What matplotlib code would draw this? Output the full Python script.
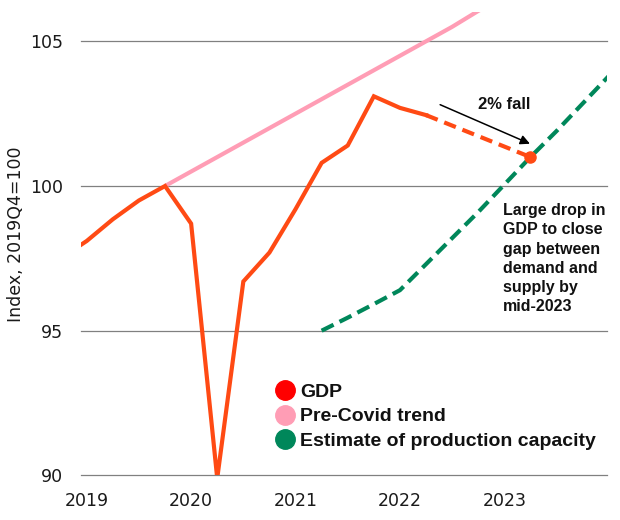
import matplotlib
matplotlib.use("Agg")
import matplotlib.pyplot as plt
from matplotlib.lines import Line2D

# quarter index: 0 = 2019Q1, 4 = 2020Q1, ...
gdp_q = [-1, 0, 1, 2, 3, 4, 5, 6, 7, 8, 9, 10, 11, 12, 13]
gdp = [97.5, 98.1, 98.85, 99.5, 100.0, 98.7, 89.9, 96.7, 97.7, 99.2, 100.8, 101.4, 103.1, 102.7, 102.45]

gdp_fcst_q = [13, 17]
gdp_fcst = [102.45, 101.0]

trend_q = [3, 4, 5, 6, 7, 8, 9, 10, 11, 12, 13, 14, 15, 16]
trend = [100.0, 100.5, 101.0, 101.5, 102.0, 102.5, 103.0, 103.5, 104.0, 104.5, 105.0, 105.5, 106.05, 106.55]

capacity_q = [9, 10, 11, 12, 13, 14, 15, 16, 17, 18, 19, 20]
capacity = [95.0, 95.45, 95.92, 96.4, 97.3, 98.2, 99.1, 100.05, 101.0, 101.9, 102.85, 103.8]

year_ticks = [0, 4, 8, 12, 16]
year_labels = ["2019", "2020", "2021", "2022", "2023"]
y_ticks = [90, 95, 100, 105]

c_gdp = "#FF4A14"
c_trend = "#FF9DB5"
c_cap = "#00875A"

fig = plt.figure(figsize=(6.2, 5.2), dpi=100)
ax = fig.add_axes([0.1306, 0.0858, 0.8479, 0.8904])

ax.plot(trend_q, trend, color=c_trend, lw=3, solid_capstyle="butt")
ax.plot(capacity_q, capacity, color=c_cap, lw=3, dashes=(3.2, 1.6))
ax.plot(gdp_q, gdp, color=c_gdp, lw=3, solid_joinstyle="miter")
ax.plot(gdp_fcst_q, gdp_fcst, color=c_gdp, lw=3, dashes=(3.0, 1.7))
ax.plot(gdp_fcst_q[-1], gdp_fcst[-1], "o", color=c_gdp, markersize=8, zorder=5)

ax.set_xlim(-0.22, 19.92)
ax.set_ylim(90, 106)
ax.set_yticks(y_ticks)
ax.set_xticks(year_ticks)
ax.set_xticklabels(year_labels)
ax.grid(axis="y", color="#808080", lw=0.9)
ax.set_axisbelow(True)
for gl in ax.get_ygridlines():
    gl.set_clip_on(False)
for s in ax.spines.values():
    s.set_visible(False)
ax.tick_params(axis="y", length=0, pad=13, labelsize=12.5, labelcolor="#1a1a1a")
ax.tick_params(axis="x", length=0, pad=12, labelsize=12.5, labelcolor="#1a1a1a")

ax.set_ylabel("Index, 2019Q4=100", fontsize=12.5, color="#1a1a1a")
ax.yaxis.set_label_coords(-0.1065, 0.52)

bold = ["Liberation Sans", "DejaVu Sans"]
ax.annotate("", xy=(16.98, 101.46), xytext=(13.54, 102.81),
            arrowprops=dict(arrowstyle="-|>", color="black", lw=1.1,
                            mutation_scale=14, shrinkA=0, shrinkB=0))
ax.text(16.0, 102.8, "2% fall", ha="center", va="center", fontsize=12,
        fontweight="bold", family=bold, color="#111111")
ax.text(15.95, 99.4, "Large drop in\nGDP to close\ngap between\ndemand and\nsupply by\nmid-2023",
        ha="left", va="top", fontsize=11.5, fontweight="bold", family=bold,
        color="#111111", linespacing=1.34)

handles = [
    Line2D([], [], marker="o", ls="none", markersize=14, color="#FF0000"),
    Line2D([], [], marker="o", ls="none", markersize=14, color=c_trend),
    Line2D([], [], marker="o", ls="none", markersize=14, color=c_cap),
]
labels = ["GDP", "Pre-Covid trend", "Estimate of production capacity"]
leg = fig.legend(handles, labels, loc="upper left", bbox_to_anchor=(0.444, 0.263),
                 bbox_transform=fig.transFigure, frameon=False, borderpad=0,
                 borderaxespad=0, handlelength=1.0, handletextpad=0.27,
                 labelspacing=0.36, prop=dict(family=bold, weight="bold", size=14))
for t in leg.get_texts():
    t.set_color("#111111")

fig.savefig("out.png", dpi=100)
